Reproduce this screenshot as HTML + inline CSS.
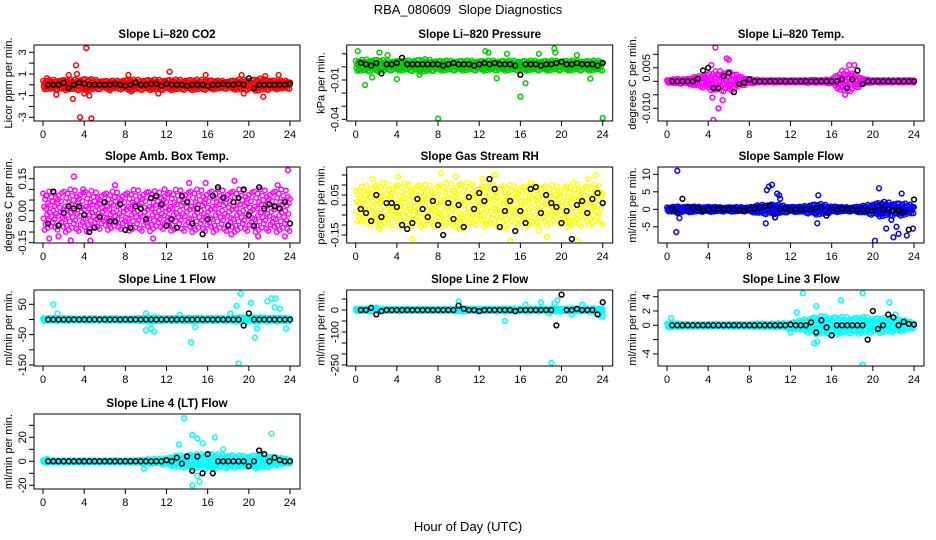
<!DOCTYPE html>
<html><head><meta charset="utf-8">
<style>
html,body{margin:0;padding:0;background:#fff;}
svg{display:block;font-family:"Liberation Sans",sans-serif;}
</style></head>
<body>
<svg id="chart" width="936" height="540" viewBox="0 0 936 540">
<text x="468" y="14" text-anchor="middle" font-size="13">RBA_080609&#160; Slope Diagnostics</text>
<text x="468" y="531" text-anchor="middle" font-size="13">Hour of Day (UTC)</text>
</svg>
<script>
// ---------- data ----------
const xTicks = [0,4,8,12,16,20,24];
const jitter = [0.9,-0.4,0.2,-1,0.6,-0.7,0.1,0.8,-0.2,-0.9,0.4,-0.5,1,-0.1,0.3,-0.8,0.7,-0.3,0.5,-0.6,0,0.95,-0.45,0.25,-0.85,0.65,-0.15,0.35,-0.95,0.55,-0.25,0.75,-0.65,0.15,-0.05,0.45,-0.55,0.85,-0.35,0.05,-0.75];

const co2Spread = [0.4,0.5,0.5,0.5,0.6,0.5,0.4,0.4,0.5,0.5,0.5,0.5,0.5,0.5,0.5,0.5,0.5,0.4,0.4,0.5,0.5,0.6,0.5,0.4,0.4];
const co2OutX = [4.2,3.6,4.7,3.2,3.3,2.9,2.5,4.5,4.0,12.3,15.8,19.3,19.5,21.4,21.6,22.9,8.3,1.3,8.6,11.2,0.4,6.5];
const co2OutY = [3.4,-3.0,-3.1,1.8,1.0,-1.3,0.9,-1.0,-0.8,1.2,0.9,0.9,-0.8,-1.1,0.8,0.9,0.9,-0.9,-0.6,-0.8,0.6,-0.5];
const co2Means = [0,0,0,0.2,-0.3,0,0.2,0.1,0,0,0,0,0,0.1,0,-0.1,0,0.2,0,0,0.1,0.1,-0.1,0.1,0,0,0,-0.1,0,0,0,-0.1,0,0,0.1,0,0,0.1,0,0.6,-0.3,0,0,0,0,0,0,0.1];

const presCenter = 0.001;
const presSpread = [0.004,0.005,0.005,0.004,0.004,0.004,0.005,0.005,0.004,0.004,0.004,0.004,0.004,0.004,0.004,0.004,0.004,0.004,0.004,0.004,0.004,0.004,0.004,0.004,0.004];
const presOutX = [8,24,0.9,4,16,16.5,13.7,19.3,0.2,2.3,12.6,12.9,19.4,22.8,21.5,17.8,14.7,6.2,3.1,1.6];
const presOutY = [-0.0395,-0.039,-0.0138,-0.0093,-0.0227,-0.0125,-0.0087,0.014,0.012,0.011,0.012,0.011,0.011,-0.009,0.009,0.01,0.01,-0.006,0.009,-0.008];
const presMeans = [0.003,0.002,0.001,0.003,-0.005,0.002,0.002,0.003,0.007,0.002,0.002,0.002,0.002,0.002,0.002,0.002,0.001,0.002,0.003,0.002,0.002,0.002,0.001,0.002,0.003,0.002,0.003,0.002,0.002,0.002,0.001,-0.006,0.002,0.002,0.002,0.001,0.002,0.002,0.003,0.004,0.002,0.002,0.003,0.002,0.002,0.002,0.001,0.003];

const ltSpread = [0.0005,0.001,0.001,0.002,0.003,0.004,0.004,0.002,0.001,0.0005,0.0005,0.0005,0.0005,0.0005,0.0007,0.0005,0.001,0.004,0.004,0.001,0.0005,0.0005,0.0005,0.0005,0.0005];
const ltOutX = [4.7,4.5,5.0,5.4,6.0,17.3,18.2,4.4,5.8,17.7,4.3];
const ltOutY = [0.0125,-0.0143,-0.01,-0.007,0.008,-0.005,0.006,-0.006,0.0085,0.006,0.006];
const ltMeans = [0,0,0,0,0,0.001,0.004,0.005,-0.0025,-0.0025,0.002,0.003,-0.004,-0.001,-0.0005,0.0007,0,0,0,0,0,0,0,0,0,0,0,0,0,0,0,0,0,0.0007,-0.0025,0.0007,0.004,-0.001,0,0,0,0,0,0,0,0,0,0];

const abSpread = [0.09,0.09,0.1,0.1,0.1,0.09,0.09,0.09,0.09,0.1,0.1,0.09,0.09,0.1,0.1,0.1,0.1,0.1,0.1,0.1,0.1,0.1,0.1,0.1,0.1];
const abOutX = [3,23.8,0.3,2.7,4.6,1.5,7,14.2,15.8,18.6,20.9,23.5,3.9,10.7,22.8,0.6,11.8,18.3];
const abOutY = [0.16,0.19,0.07,-0.14,-0.14,-0.12,0.12,0.13,0.13,0.14,-0.12,-0.12,0.1,-0.13,0.12,-0.13,0.1,-0.11];
const abMeans = [-0.06,0.09,-0.07,-0.01,0.02,0.01,0.02,-0.02,-0.1,-0.08,-0.03,0.04,-0.05,-0.05,0.03,-0.09,-0.08,0.02,0.01,-0.04,0.06,0.07,0.03,-0.07,-0.04,-0.08,0.07,0.04,-0.06,0.01,-0.11,-0.04,0.07,0.11,0.06,-0.07,0.04,0.06,0.1,-0.02,-0.07,0.11,0.01,0.03,0.02,0.01,0.04,-0.06];

const rhSpread = [0.08,0.1,0.11,0.11,0.11,0.11,0.11,0.1,0.11,0.11,0.12,0.11,0.1,0.11,0.11,0.1,0.1,0.11,0.11,0.1,0.1,0.11,0.11,0.1,0.1];
const rhOutX = [2.5,5,4.1,2.3,1.6,5.5,6.7,8.3,9.7,12.3,13.5,15,18.6,21.2,22.6,23.3,21.6,14.7,10.1,17.8];
const rhOutY = [0.21,0.22,0.14,-0.12,0.13,-0.17,-0.1,0.16,0.14,0.13,0.15,-0.18,-0.16,0.21,0.13,0.15,-0.18,-0.12,-0.12,-0.13];
const rhMeans = [-0.02,-0.04,-0.08,0.05,-0.06,0.01,0.01,-0.01,-0.1,-0.12,-0.09,0.03,-0.02,-0.06,0.02,-0.1,-0.15,0.01,-0.07,0,-0.11,0.04,-0.02,0.06,0.02,0.13,0.08,-0.11,-0.03,0.02,-0.13,-0.03,-0.09,0.08,0.09,-0.04,0.05,0.01,-0.01,-0.09,-0.03,-0.17,0,0.02,-0.04,0.03,0.06,0.01];

const sfSpread = [0.6,0.9,0.9,0.8,0.8,0.7,0.7,0.7,0.7,1.3,1.6,1.3,0.8,0.8,1.5,1.6,1.0,0.7,0.7,1.0,1.8,2.2,2.0,1.8,1.2];
const sfOutX = [1,0.9,1.2,9.7,9.9,9.6,10.9,11,14.7,14.6,20.2,20.6,21.3,22,22.5,22.8,22.3,23.3,23.9,21.8,10.2,10.7];
const sfOutY = [11,-6.5,-2.5,5.5,6.5,-4,4,3,4,-4,-9,6,-5.5,-8,-7,4.5,-5,-7.5,-5.5,-3,7,4.5];
const sfMeans = [0.2,-1,3,0.5,0.5,0.3,-0.4,0,0,0.2,0.1,0,0,-0.2,-0.3,0,0.2,0.5,1,1,-2.3,0,0.3,-0.2,0,0,0,0,0.5,0.5,-1.8,0,0,0.2,0,0,-0.2,0,-0.3,-0.5,1,0,0,-0.3,-0.3,-0.8,-5.8,2.8];

const l1Spread = [5,6,5,5,5,5,5,5,5,5,8,8,6,6,7,7,6,6,6,8,8,8,8,7,6];
const l1OutX = [1,1.4,10,10,10.5,10.8,14.4,14.8,19,19.2,18.8,20.2,20.6,20.8,21.8,22.2,22.6,22.5,23,23.6,18.2,13.3];
const l1OutY = [50,20,20,-35,-30,-40,-75,-25,-145,85,45,55,-60,-30,60,70,70,40,35,-30,20,15];
const l1Means = [0,0,0,0,0,0,0,0,0,0,0,0,0,0,0,0,0,0,0,0,0,0,0,0,0,0,0,0,0,0,0,0,0,0,0,0,0,0,-20,20,0,0,0,0,0,0,0,0];

const l2Spread = [6,7,7,6,6,6,6,6,6,6,8,7,7,7,8,8,8,8,8,8,8,8,8,8,8];
const l2OutX = [2,19,18.8,19.3,10,16.5,14.5,24,21,18,19.6,22,23.7];
const l2OutY = [12,-240,-15,30,40,25,-50,-30,-20,35,45,25,-25];
const l2Means = [0,0,10,-20,-5,0,0,0,0,0,0,0,0,0,0,0,0,0,0,20,5,0,0,-5,0,0,0,0,0,0,-5,0,0,0,0,0,0,0,-70,70,0,0,5,0,0,0,-20,35];

const l3Spread = [0.3,0.3,0.2,0.2,0.2,0.2,0.2,0.2,0.2,0.3,0.3,0.3,0.4,0.7,1.2,1.3,1.3,1.2,1.2,1.2,1.1,1.1,1.0,0.8,0.4];
const l3OutX = [0.4,13.2,19,19,16.9,21.6,14.3,14.6,12.6,14.5,12,22.2];
const l3OutY = [1,4.5,4.5,-5.5,3.5,3.2,-2.5,-2.3,1.8,2.7,-1,1.5];
const l3Means = [0,0,0,0,0,0,0,0,0,0,0,0,0,0,0,0,0,0,0,0,0,0,0,0.1,0,0,0,0.4,-1,0.7,-0.3,-1.4,0,0,0,0,0,0,-2,2,-0.5,0,1.5,1.1,0,0.5,0.2,0.1];

const l4Spread = [1,1,1,1,1,1,1,1,1,1,2,2,3,5,6,6,7,6,6,5,5,6,5,3,2];
const l4OutX = [13.7,14.5,15,15.5,13.2,16.7,22.2,14.5,15.2,15,9.8,17.5,0.4];
const l4OutY = [36,22,19,15,14,20,23,-20,-17,-12,-6,10,2];
const l4Means = [0,0,0,0,0,0,0,0,0,0,0,0,0,0,0,0,0,0,0,0,0,0,0,1,0,3,-2,4,-8,4,-10,6,-10,0,0,0,0,0,0,-4,0,9,6,0,3,1,0,0];

// ---------- layout ----------
const colLeft = [34, 346.7, 658];
const rowBox = [[45,121],[167,243],[290,366],[414,489]];
const panels = [
 {name:'co2',title:'Slope Li\u2013820 CO2',ylab:'Licor ppm per min.',col:0,row:0,color:'#ff0000',center:0,spread:co2Spread,ox:co2OutX,oy:co2OutY,means:co2Means,ref:[3,52.3,-3,117.3],ticks:[-3,-2,-1,0,1,2,3],labels:['-3','-1','1','3'],labelAt:[-3,-1,1,3]},
 {name:'pressure',title:'Slope Li\u2013820 Pressure',ylab:'kPa per min.',col:1,row:0,color:'#00cc00',center:presCenter,spread:presSpread,ox:presOutX,oy:presOutY,means:presMeans,ref:[0,66.9,-0.04,119.3],ticks:[-0.04,-0.03,-0.02,-0.01,0,0.01],labels:['-0.04','-0.01'],labelAt:[-0.04,-0.01]},
 {name:'li-temp',title:'Slope Li\u2013820 Temp.',ylab:'degrees C per min.',col:2,row:0,color:'#ff00ff',center:0,spread:ltSpread,ox:ltOutX,oy:ltOutY,means:ltMeans,ref:[0,81.3,-0.01,108.3],ticks:[-0.01,-0.005,0,0.005,0.01],labels:['-0.010','0.005'],labelAt:[-0.01,0.005]},
 {name:'amb-box-temp',title:'Slope Amb. Box Temp.',ylab:'degrees C per min.',col:0,row:1,color:'#ff00ff',center:0,spread:abSpread,ox:abOutX,oy:abOutY,means:abMeans,ref:[0,210.7,0.15,178.7],ticks:[-0.15,-0.1,-0.05,0,0.05,0.1,0.15],labels:['-0.15','0.00','0.15'],labelAt:[-0.15,0,0.15]},
 {name:'gas-rh',title:'Slope Gas Stream RH',ylab:'percent per min.',col:1,row:1,color:'#ffff00',center:0,spread:rhSpread,ox:rhOutX,oy:rhOutY,means:rhMeans,ref:[0.05,195,-0.15,235],ticks:[-0.15,-0.1,-0.05,0,0.05,0.1,0.15],labels:['-0.15','0.05'],labelAt:[-0.15,0.05]},
 {name:'sample-flow',title:'Slope Sample Flow',ylab:'ml/min per min.',col:2,row:1,color:'#0000ff',center:0,spread:sfSpread,ox:sfOutX,oy:sfOutY,means:sfMeans,ref:[0,209.3,10,174.3],ticks:[-5,0,5,10],labels:['-5','0','5','10'],labelAt:[-5,0,5,10]},
 {name:'line1-flow',title:'Slope Line 1 Flow',ylab:'ml/min per min.',col:0,row:2,color:'#00ffff',center:0,spread:l1Spread,ox:l1OutX,oy:l1OutY,means:l1Means,ref:[50,304.3,-150,365],ticks:[-150,-100,-50,0,50],labels:['-150','-50','50'],labelAt:[-150,-50,50]},
 {name:'line2-flow',title:'Slope Line 2 Flow',ylab:'ml/min per min.',col:1,row:2,color:'#00ffff',center:0,spread:l2Spread,ox:l2OutX,oy:l2OutY,means:l2Means,ref:[0,310,-250,365],ticks:[-250,-200,-150,-100,-50,0,50],labels:['-250','-100','0'],labelAt:[-250,-100,0]},
 {name:'line3-flow',title:'Slope Line 3 Flow',ylab:'ml/min per min.',col:2,row:2,color:'#00ffff',center:0,spread:l3Spread,ox:l3OutX,oy:l3OutY,means:l3Means,ref:[0,325.3,4,296.7],ticks:[-4,-2,0,2,4],labels:['-4','0','2','4'],labelAt:[-4,0,2,4]},
 {name:'line4-flow',title:'Slope Line 4 (LT) Flow',ylab:'ml/min per min.',col:0,row:3,color:'#00ffff',center:0,spread:l4Spread,ox:l4OutX,oy:l4OutY,means:l4Means,ref:[0,461.3,20,437.3],ticks:[-20,-10,0,10,20,30],labels:['-20','0','20'],labelAt:[-20,0,20]}
];

const NS='http://www.w3.org/2000/svg';
const svg=document.getElementById('chart');
function mk(tag,attrs,parent){const e=document.createElementNS(NS,tag);for(const k in attrs)e.setAttribute(k,attrs[k]);(parent||svg).appendChild(e);return e;}

panels.forEach(p=>{
  const g=mk('g',{});
  
  
  const L=colLeft[p.col], W=266, T=rowBox[p.row][0], B=rowBox[p.row][1];
  const xS=h=>L+9+h*247/24;
  const [v1,y1,v2,y2]=p.ref;
  const yS=v=>y1+(v-v1)*(y2-y1)/(v2-v1);
  const clip='clip-'+p.name;
  const cp=mk('clipPath',{id:clip},g); mk('rect',{x:L,y:T,width:W,height:B-T},cp);
  const pts=mk('g',{'clip-path':'url(#'+clip+')'},g);
  
  
  for(let i=0;i<=480;i++){
    const h=i*0.05;
    const k=Math.min(23,Math.floor(h)), f=h-k;
    const s=p.spread[k]*(1-f)+p.spread[k+1]*f;
    const v=p.center+s*jitter[i%jitter.length];
    const c=mk('circle',{cx:xS(h),cy:yS(v),r:2.3,fill:'none',stroke:p.color,'stroke-width':1.4},pts);
    
    
  }
  p.ox.forEach((x,i)=>{
    const c=mk('circle',{cx:xS(x),cy:yS(p.oy[i]),r:2.4,fill:'none',stroke:p.color,'stroke-width':1.5},pts);
    
    
  });
  p.means.forEach((v,i)=>{
    const c=mk('circle',{cx:xS(0.5*(i+1)),cy:yS(v),r:2.4,fill:'none',stroke:'#000','stroke-width':1.5},pts);
    
    
  });
  const box=mk('rect',{x:L,y:T,width:W,height:B-T,fill:'none',stroke:'#000','stroke-width':1},g);
  
  
  const xa=mk('g',{},g);
  
  
  mk('line',{x1:xS(0),x2:xS(24),y1:B,y2:B,stroke:'#000'},xa);
  xTicks.forEach(t=>{
    mk('line',{x1:xS(t),x2:xS(t),y1:B,y2:B+5,stroke:'#000'},xa);
    const tx=mk('text',{x:xS(t),y:B+17,'text-anchor':'middle','font-size':11},xa);
    tx.textContent=t;
    
    
  });
  const ya=mk('g',{},g);
  
  
  const tv=p.ticks;
  mk('line',{x1:L,x2:L,y1:yS(tv[0]),y2:yS(tv[tv.length-1]),stroke:'#000'},ya);
  tv.forEach(t=>mk('line',{x1:L-5,x2:L,y1:yS(t),y2:yS(t),stroke:'#000'},ya));
  p.labelAt.forEach((t,i)=>{
    const yy=yS(t), xx=L-8;
    const tx=mk('text',{x:xx,y:yy,'text-anchor':'middle','font-size':11,transform:`rotate(-90 ${xx} ${yy})`},ya);
    tx.textContent=p.labels[i];
    
    
  });
  const yl=mk('text',{x:L-22,y:(T+B)/2,'text-anchor':'middle','font-size':11,transform:`rotate(-90 ${L-22} ${(T+B)/2})`},g);
  yl.textContent=p.ylab;
  
  
  const ti=mk('text',{x:L+W/2,y:T-7,'text-anchor':'middle','font-size':11.5,'font-weight':'bold'},g);
  ti.textContent=p.title;
  
  
});
</script>
</body></html>
